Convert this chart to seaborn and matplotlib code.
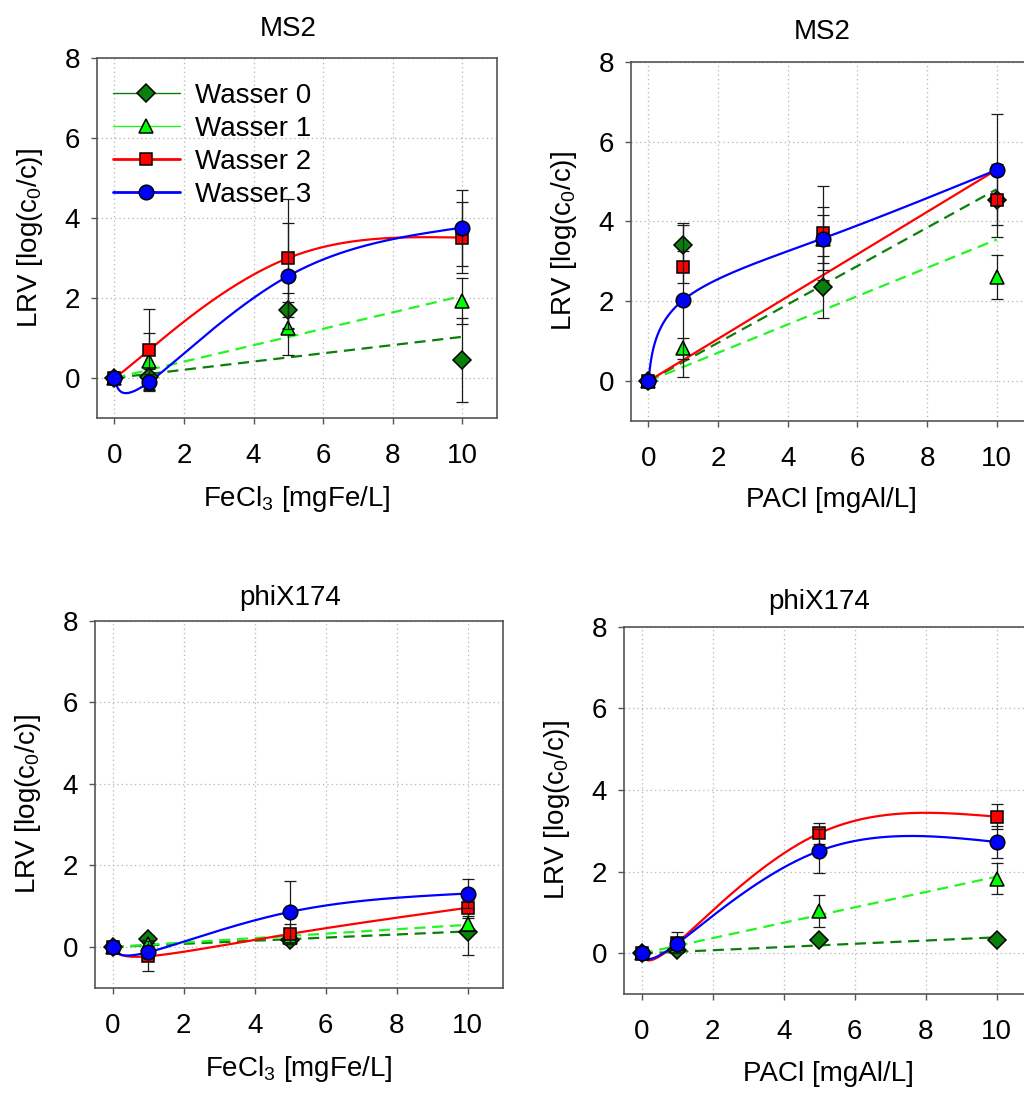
import numpy as np
import pandas as pd
import matplotlib
matplotlib.use("Agg")
import matplotlib.pyplot as plt
from matplotlib.lines import Line2D
import seaborn as sns

# Dose levels (mg/L) shared by all panels
dose = [0, 1, 5, 10]
series_names = ["Wasser 0", "Wasser 1", "Wasser 2", "Wasser 3"]

# MS2 removal, FeCl3
ms2_fe_w0 = [0, 0.02, 1.69, 0.45]
ms2_fe_w1 = [0, 0.43, 1.24, 1.92]
ms2_fe_w2 = [0, 0.70, 3.00, 3.51]
ms2_fe_w3 = [0, -0.10, 2.55, 3.76]
ms2_fe_e0 = [0, 0.20, 0.44, 1.04]
ms2_fe_e1 = [0, 0.70, 0.67, 0.57]
ms2_fe_e2 = [0, 1.03, 1.48, 0.88]
ms2_fe_e3 = [0, 0.20, 1.32, 0.95]

# MS2 removal, PACl
ms2_al_w0 = [0, 3.42, 2.36, 4.53]
ms2_al_w1 = [0, 0.82, 3.55, 2.61]
ms2_al_w2 = [0, 2.86, 3.71, 4.53]
ms2_al_w3 = [0, 2.03, 3.57, 5.29]
ms2_al_e0 = [0, 0.50, 0.78, 0.10]
ms2_al_e1 = [0, 0.26, 0.60, 0.55]
ms2_al_e2 = [0, 0.40, 1.17, 0.92]
ms2_al_e3 = [0, 1.92, 0.80, 1.39]

# phiX174 removal, FeCl3
phi_fe_w0 = [0, 0.20, 0.18, 0.37]
phi_fe_w1 = [0, 0.08, 0.25, 0.55]
phi_fe_w2 = [0, -0.23, 0.32, 0.96]
phi_fe_w3 = [0, -0.13, 0.86, 1.31]
phi_fe_e0 = [0, 0.10, 0.10, 0.57]
phi_fe_e1 = [0, 0.10, 0.15, 0.15]
phi_fe_e2 = [0, 0.37, 0.25, 0.20]
phi_fe_e3 = [0, 0.15, 0.75, 0.36]

# phiX174 removal, PACl
phi_al_w0 = [0, 0.08, 0.34, 0.32]
phi_al_w1 = [0, 0.18, 1.04, 1.83]
phi_al_w2 = [0, 0.26, 2.94, 3.35]
phi_al_w3 = [0, 0.24, 2.51, 2.73]
phi_al_e0 = [0, 0.05, 0.05, 0.05]
phi_al_e1 = [0, 0.10, 0.40, 0.38]
phi_al_e2 = [0, 0.26, 0.26, 0.30]
phi_al_e3 = [0, 0.15, 0.53, 0.40]

titles = ["MS2", "MS2", "phiX174", "phiX174"]
xlabels = ["FeCl$_3$ [mgFe/L]", "PACl [mgAl/L]", "FeCl$_3$ [mgFe/L]", "PACl [mgAl/L]"]
ylabel = "LRV [log(c$_0$/c)]"
xticks = [0, 2, 4, 6, 8, 10]
yticks = [0, 2, 4, 6, 8]

sns.set_theme(style="ticks")
plt.rcParams["font.family"] = ["Liberation Sans", "DejaVu Sans"]
plt.rcParams["mathtext.fontset"] = "custom"
plt.rcParams["mathtext.rm"] = "Liberation Sans"
plt.rcParams["mathtext.it"] = "Liberation Sans:italic"
plt.rcParams["mathtext.bf"] = "Liberation Sans:bold"
plt.rcParams["text.color"] = "black"
plt.rcParams["axes.labelcolor"] = "black"
plt.rcParams["axes.titlecolor"] = "black"

colors = ["#0a800a", "#22f522", "#ff0000", "#0000ff"]
marker_fill = ["#0a800a", "#00ff00", "#ff0000", "#0000ff"]
markers = ["D", "^", "s", "o"]
msizes = [9.5, 9.5, 9.0, 10.5]

FS = 20


def natural_cubic(t, y, tt):
    n = len(t)
    h = np.diff(t)
    A = np.zeros((n, n))
    r = np.zeros(n)
    A[0, 0] = 1.0
    A[-1, -1] = 1.0
    for i in range(1, n - 1):
        A[i, i - 1] = h[i - 1]
        A[i, i] = 2 * (h[i - 1] + h[i])
        A[i, i + 1] = h[i]
        r[i] = 6 * ((y[i + 1] - y[i]) / h[i] - (y[i] - y[i - 1]) / h[i - 1])
    M = np.linalg.solve(A, r)
    idx = np.clip(np.searchsorted(t, tt) - 1, 0, n - 2)
    t0, t1 = t[idx], t[idx + 1]
    hh = t1 - t0
    a = (t1 - tt) / hh
    b = (tt - t0) / hh
    return a * y[idx] + b * y[idx + 1] + ((a ** 3 - a) * M[idx] + (b ** 3 - b) * M[idx + 1]) * hh ** 2 / 6


def spline_curve(xs, ys, n=400):
    """Parametric natural spline through the points, one parameter step per point."""
    xs = np.asarray(xs, float)
    ys = np.asarray(ys, float)
    t = np.arange(len(xs), dtype=float)
    tt = np.linspace(0, t[-1], n)
    return natural_cubic(t, xs, tt), natural_cubic(t, ys, tt)


def origin_fit(xs, ys):
    xs = np.asarray(xs, float)
    ys = np.asarray(ys, float)
    slope = np.sum(xs * ys) / np.sum(xs * xs)
    xf = np.array([0.0, xs.max()])
    return xf, slope * xf


panels = [
    dict(vals=[ms2_fe_w0, ms2_fe_w1, ms2_fe_w2, ms2_fe_w3],
         errs=[ms2_fe_e0, ms2_fe_e1, ms2_fe_e2, ms2_fe_e3],
         kinds=["fit", "fit", "spline", "spline"],
         rect=[0.09473, 0.61757, 0.39063, 0.32937], title_pad=16),
    dict(vals=[ms2_al_w0, ms2_al_w1, ms2_al_w2, ms2_al_w3],
         errs=[ms2_al_e0, ms2_al_e1, ms2_al_e2, ms2_al_e3],
         kinds=["fit", "fit", "fitsolid", "spline"],
         rect=[0.61621, 0.61482, 0.39111, 0.32873], title_pad=16),
    dict(vals=[phi_fe_w0, phi_fe_w1, phi_fe_w2, phi_fe_w3],
         errs=[phi_fe_e0, phi_fe_e1, phi_fe_e2, phi_fe_e3],
         kinds=["fit", "fit", "spline", "spline"],
         rect=[0.09277, 0.09634, 0.39844, 0.33577], title_pad=11),
    dict(vals=[phi_al_w0, phi_al_w1, phi_al_w2, phi_al_w3],
         errs=[phi_al_e0, phi_al_e1, phi_al_e2, phi_al_e3],
         kinds=["fit", "fit", "spline", "spline"],
         rect=[0.60938, 0.09030, 0.39844, 0.33632], title_pad=13),
]

fig = plt.figure(figsize=(10.24, 10.93), dpi=100)

for k, p in enumerate(panels):
    ax = fig.add_axes(p["rect"])
    ax.set_xlim(-0.5, 11)
    ax.set_ylim(-1, 8)
    ax.set_xticks(xticks)
    ax.set_yticks(yticks)
    ax.set_axisbelow(True)
    ax.grid(True, linestyle=(0, (1, 2.5)), color="#b5b5b5", linewidth=0.9)
    for s in ax.spines.values():
        s.set_color("#555555")
        s.set_linewidth(1.2)
        s.set_visible(True)
    ax.tick_params(axis="both", direction="out", length=4, width=1.0, color="#555555",
                   labelsize=FS, labelcolor="black", top=False, right=False)
    ax.tick_params(axis="x", pad=14)
    ax.tick_params(axis="y", pad=8)

    # lines through the data
    for i in range(4):
        xs, ys = dose, p["vals"][i]
        kind = p["kinds"][i]
        if kind == "spline":
            cx, cy = spline_curve(xs, ys)
            sns.lineplot(x=cx, y=cy, ax=ax, color=colors[i], linewidth=1.6,
                         sort=False, estimator=None, zorder=3)
        else:
            fx, fy = origin_fit(xs, ys)
            sns.lineplot(x=fx, y=fy, ax=ax, color=colors[i], linewidth=1.6,
                         sort=False, estimator=None, zorder=3)
            if kind == "fit":
                ax.lines[-1].set_dashes((5, 3))

    # error bars and markers
    for i in range(4):
        ax.errorbar(dose, p["vals"][i], yerr=p["errs"][i], fmt="none",
                    ecolor="#1a1a1a", elinewidth=0.9, capsize=4, capthick=0.9,
                    zorder=5 + 2 * i)
        ax.plot(dose, p["vals"][i], linestyle="none", marker=markers[i],
                markersize=msizes[i], markerfacecolor=marker_fill[i],
                markeredgecolor="black", markeredgewidth=1.1, zorder=6 + 2 * i)

    ax.set_title(titles[k], fontsize=FS, x=(5 + 0.5) / 11.5, pad=p["title_pad"])
    ax.set_xlabel(xlabels[k], fontsize=FS, labelpad=11)
    ax.set_ylabel(ylabel, fontsize=FS, labelpad=14)

    if k == 0:
        handles = [
            Line2D([], [], color=colors[i], lw=(1.0 if i < 2 else 2.0), marker=markers[i],
                   ms=msizes[i], mfc=marker_fill[i], mec="black", mew=1.1)
            for i in range(4)
        ]
        ax.legend(handles, series_names, loc="upper left", bbox_to_anchor=(0.04, 0.93),
                  frameon=False, fontsize=FS, handlelength=2.4, handletextpad=0.55,
                  labelspacing=0.25, borderpad=0, borderaxespad=0)

fig.savefig("out.png", dpi=100)
